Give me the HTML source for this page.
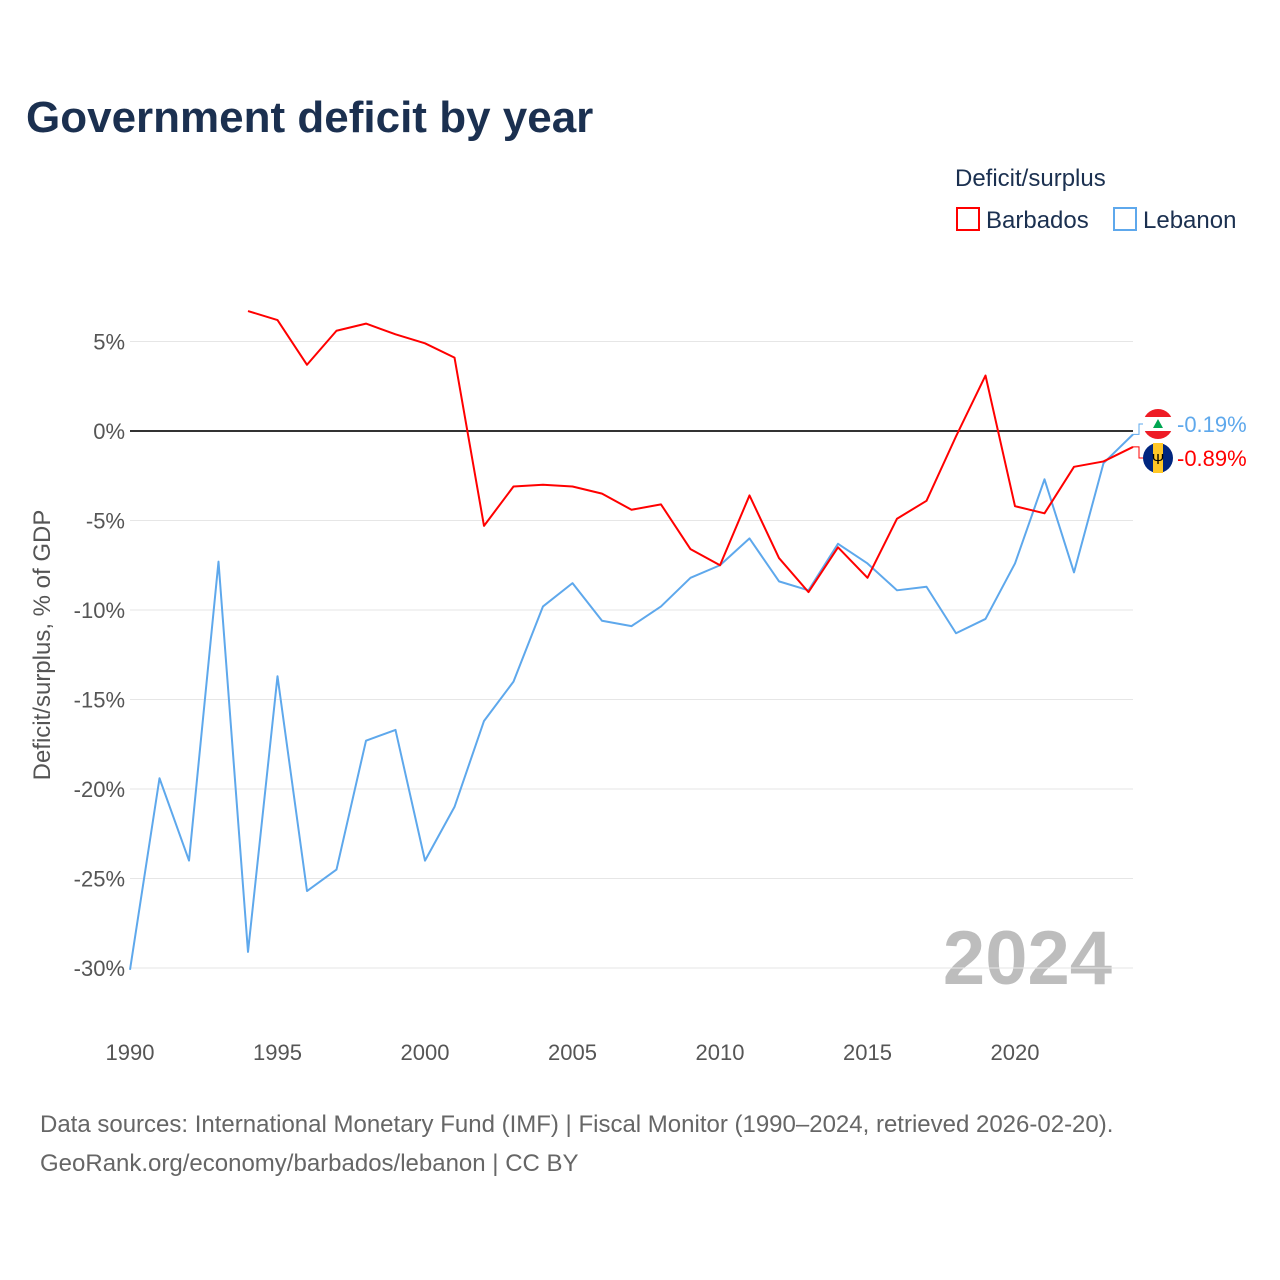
<!DOCTYPE html>
<html><head><meta charset="utf-8">
<style>
body{margin:0;background:#fff;font-family:"Liberation Sans",sans-serif;}
#wrap{position:relative;width:1280px;height:1280px;overflow:hidden;}
</style></head>
<body>
<div id="wrap">
<svg id="chart" width="1280" height="1280">
<text x="26" y="132" font-size="44" font-weight="bold" fill="#1b3050">Government deficit by year</text>
<text x="955" y="186" font-size="24" fill="#1b3050">Deficit/surplus</text>
<g><rect x="957" y="208" width="22" height="22" fill="none" stroke="#ff0000" stroke-width="2"/><text x="986" y="228" font-size="24" fill="#1b3050">Barbados</text></g>
<g><rect x="1114" y="208" width="22" height="22" fill="none" stroke="#5ea8ec" stroke-width="2"/><text x="1143" y="228" font-size="24" fill="#1b3050">Lebanon</text></g>
<text transform="translate(50,645) rotate(-90)" text-anchor="middle" font-size="24" fill="#555">Deficit/surplus, % of GDP</text>
<text x="1112" y="984" text-anchor="end" font-size="76" font-weight="bold" fill="#bdbdbd">2024</text>
<g id="grid"></g><g id="series"></g>
<text x="40" y="1132" font-size="24" fill="#666">Data sources: International Monetary Fund (IMF) | Fiscal Monitor (1990–2024, retrieved 2026-02-20).</text>
<text x="40" y="1171" font-size="24" fill="#666">GeoRank.org/economy/barbados/lebanon | CC BY</text>
</svg></div>
<script>
const yTicks=[5,0,-5,-10,-15,-20,-25,-30];
const xTicks=[1990,1995,2000,2005,2010,2015,2020];
const barbadosYears=[1994,1995,1996,1997,1998,1999,2000,2001,2002,2003,2004,2005,2006,2007,2008,2009,2010,2011,2012,2013,2014,2015,2016,2017,2018,2019,2020,2021,2022,2023,2024];
const barbadosValues=[6.7,6.2,3.7,5.6,6.0,5.4,4.9,4.1,-5.3,-3.1,-3.0,-3.1,-3.5,-4.4,-4.1,-6.6,-7.5,-3.6,-7.1,-9.0,-6.5,-8.2,-4.9,-3.9,-0.3,3.1,-4.2,-4.6,-2.0,-1.7,-0.89];
const lebanonYears=[1990,1991,1992,1993,1994,1995,1996,1997,1998,1999,2000,2001,2002,2003,2004,2005,2006,2007,2008,2009,2010,2011,2012,2013,2014,2015,2016,2017,2018,2019,2020,2021,2022,2023,2024];
const lebanonValues=[-30.1,-19.4,-24.0,-7.3,-29.1,-13.7,-25.7,-24.5,-17.3,-16.7,-24.0,-21.0,-16.2,-14.0,-9.8,-8.5,-10.6,-10.9,-9.8,-8.2,-7.5,-6.0,-8.4,-8.9,-6.3,-7.4,-8.9,-8.7,-11.3,-10.5,-7.4,-2.7,-7.9,-1.8,-0.19];
const NS="http://www.w3.org/2000/svg";
const xS=y=>130+(y-1990)*(1133-130)/34;
const yS=v=>431-v*17.9;
const grid=document.getElementById('grid'),ser=document.getElementById('series');
function mk(tag,attrs,parent){const e=document.createElementNS(NS,tag);for(const k in attrs)e.setAttribute(k,attrs[k]);parent.appendChild(e);return e;}
yTicks.forEach(t=>{
 const l=mk('line',{x1:130,x2:1133,y1:yS(t),y2:yS(t),stroke:t===0?'#333':'#e6e6e6','stroke-width':t===0?2:1},grid);
 
 
 const tx=mk('text',{x:125,y:yS(t)+8,'text-anchor':'end','font-size':22,fill:'#555'},grid);
 tx.textContent=t+'%';
 
 
});
xTicks.forEach(t=>{
 const tx=mk('text',{x:xS(t),y:1060,'text-anchor':'middle','font-size':22,fill:'#555'},grid);
 tx.textContent=t;
 
 
});
function line(years,vals,color,name){
 const p=mk('polyline',{points:years.map((y,i)=>xS(y)+','+yS(vals[i])).join(' '),fill:'none',stroke:color,'stroke-width':2,'stroke-linejoin':'round'},ser);
 
 
}
line(lebanonYears,lebanonValues,'#5ea8ec','lebanon-line');
line(barbadosYears,barbadosValues,'#ff0000','barbados-line');
function endLabel(v,ly,color,name,flag){
 const yv=yS(v);
 mk('polyline',{points:`${xS(2024)},${yv} ${xS(2024)+6},${yv} ${xS(2024)+6},${ly} ${xS(2024)+12},${ly}`,fill:'none',stroke:color,'stroke-width':1},ser);
 const g=mk('g',{},ser);
 
 
 if(flag==='lb'){
  mk('circle',{cx:1158,cy:ly,r:15,fill:'#ee1c25'},g);
  mk('rect',{x:1143,y:ly-7,width:30,height:14,fill:'#fff'},g);
  mk('polygon',{points:`1158,${ly-5} 1153,${ly+4} 1163,${ly+4}`,fill:'#00a651'},g);
 }else{
  mk('circle',{cx:1158,cy:ly,r:15,fill:'#00267f'},g);
  mk('rect',{x:1153,y:ly-15,width:10,height:30,fill:'#ffc726'},g);
  const t=mk('text',{x:1158,y:ly+6,'text-anchor':'middle','font-size':15,fill:'#000'},g);t.textContent='Ψ';
 }
 const tx=mk('text',{x:1177,y:ly+8,'font-size':22,fill:color},ser);
 tx.textContent=v.toFixed(2)+'%';
 
 
}
endLabel(lebanonValues[lebanonValues.length-1],424,'#5ea8ec','lebanon','lb');
endLabel(barbadosValues[barbadosValues.length-1],458,'#ff0000','barbados','bb');
</script>
</body></html>
